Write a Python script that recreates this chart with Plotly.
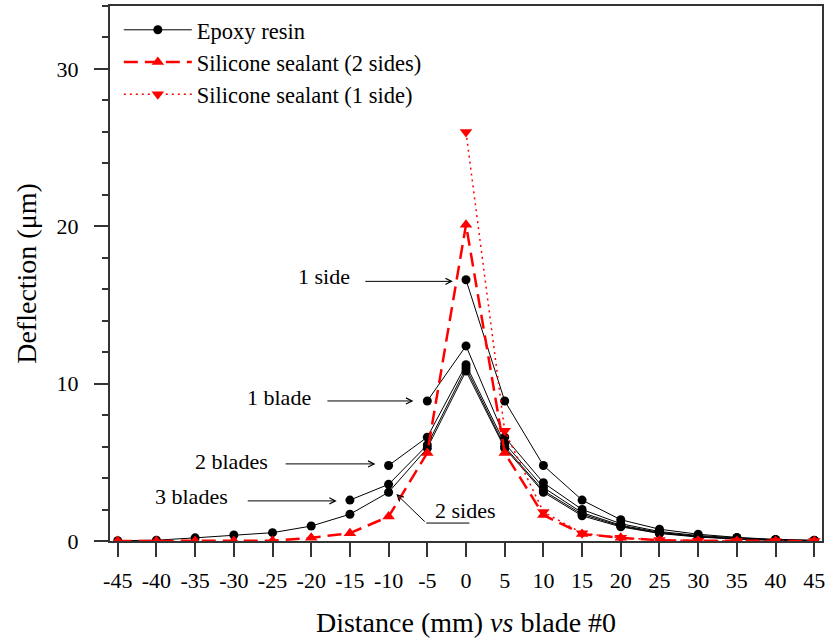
import plotly.graph_objects as go

# ---- data ----
x_full = [-45, -40, -35, -30, -25, -20, -15, -10, -5, 0, 5, 10, 15, 20, 25, 30, 35, 40, 45]

# Epoxy resin curves (each starts at a different distance)
ep_1side_x = [0, 5, 10, 15, 20, 25, 30, 35, 40, 45]
ep_1side_y = [16.6, 8.9, 4.8, 2.6, 1.35, 0.75, 0.43, 0.23, 0.1, 0.05]

ep_1blade_x = [-5, 0, 5, 10, 15, 20, 25, 30, 35, 40, 45]
ep_1blade_y = [8.9, 12.4, 6.6, 3.7, 2.0, 1.1, 0.6, 0.35, 0.2, 0.08, 0.03]

ep_2blades_x = [-10, -5, 0, 5, 10, 15, 20, 25, 30, 35, 40, 45]
ep_2blades_y = [4.8, 6.6, 11.2, 6.2, 3.4, 1.8, 1.0, 0.55, 0.3, 0.15, 0.06, 0.02]

ep_3blades_x = [-15, -10, -5, 0, 5, 10, 15, 20, 25, 30, 35, 40, 45]
ep_3blades_y = [2.6, 3.6, 6.1, 11.0, 6.0, 3.2, 1.7, 0.95, 0.5, 0.28, 0.13, 0.05, 0.02]

ep_2sides_y = [0.02, 0.05, 0.2, 0.38, 0.53, 0.95, 1.7, 3.1, 5.9, 10.8,
               5.9, 3.1, 1.6, 0.9, 0.48, 0.25, 0.12, 0.05, 0.02]

# Silicone sealant
si_2sides_y = [0, 0, 0, 0, 0.02, 0.2, 0.5, 1.55, 5.6, 20.1,
               5.6, 1.65, 0.45, 0.2, 0.05, 0.02, 0, 0, 0]
si_1side_x = [0, 5, 10, 15, 20, 25, 30, 35, 40, 45]
si_1side_y = [26.0, 7.0, 1.85, 0.5, 0.2, 0.07, 0.02, 0, 0, 0]

x_ticks = [-45, -40, -35, -30, -25, -20, -15, -10, -5, 0, 5, 10, 15, 20, 25, 30, 35, 40, 45]
x_ticktext = [str(v) for v in x_ticks]

# annotation labels: (text, text_x, text_y, tail_x, tail_y, head_x, head_y)
labels = [
    ("1 side", -18.3, 16.8, -13.2, 16.5, -1.7, 16.5),
    ("1 blade", -24.2, 9.1, -18.1, 8.9, -6.8, 8.9),
    ("2 blades", -30.3, 5.07, -23.5, 4.9, -11.7, 4.9),
    ("3 blades", -35.5, 2.8, -28.4, 2.55, -16.7, 2.55),
]
two_sides_label = ("2 sides", -0.1, 1.97)
two_sides_arrow = (-5.14, 1.14, -9.0, 2.98)
two_sides_underline = (0.64, -5.14, 1.14)

FONT = "Liberation Serif, Times New Roman, serif"

fig = go.Figure()

ep_sets = [
    (ep_1side_x, ep_1side_y),
    (ep_1blade_x, ep_1blade_y),
    (ep_2blades_x, ep_2blades_y),
    (ep_3blades_x, ep_3blades_y),
    (x_full, ep_2sides_y),
]
for i, (xx, yy) in enumerate(ep_sets):
    fig.add_trace(go.Scatter(
        x=xx, y=yy, mode="lines+markers", name="Epoxy resin",
        legendgroup="epoxy", showlegend=(i == 0),
        line=dict(color="black", width=1),
        marker=dict(symbol="circle", size=9, color="black"),
    ))

fig.add_trace(go.Scatter(
    x=x_full, y=si_2sides_y, mode="lines+markers", name="Silicone sealant (2 sides)",
    line=dict(color="#ff0000", width=2.5, dash="14px,7px"),
    marker=dict(symbol="triangle-up", size=11, color="#ff0000"),
))
fig.add_trace(go.Scatter(
    x=si_1side_x, y=si_1side_y, mode="lines+markers", name="Silicone sealant (1 side)",
    line=dict(color="#ff0000", width=1.5, dash="2px,4px"),
    marker=dict(symbol="triangle-down", size=11, color="#ff0000"),
))

annotations = []
for text, tx, ty, ax, ay, hx, hy in labels:
    annotations.append(dict(x=tx, y=ty, xref="x", yref="y", text=text, showarrow=False,
                            font=dict(family=FONT, size=22, color="black")))
    annotations.append(dict(x=hx, y=hy, ax=ax, ay=ay, xref="x", yref="y", axref="x", ayref="y",
                            text="", showarrow=True, arrowhead=5, arrowsize=1.2,
                            arrowwidth=1, arrowcolor="black"))
annotations.append(dict(x=two_sides_label[1], y=two_sides_label[2], xref="x", yref="y",
                        text=two_sides_label[0], showarrow=False,
                        font=dict(family=FONT, size=22, color="black")))
annotations.append(dict(x=two_sides_arrow[2], y=two_sides_arrow[3], ax=two_sides_arrow[0],
                        ay=two_sides_arrow[1], xref="x", yref="y", axref="x", ayref="y",
                        text="", showarrow=True, arrowhead=5, arrowsize=1.2,
                        arrowwidth=1, arrowcolor="black"))
annotations.append(dict(x=two_sides_underline[1], y=two_sides_underline[2],
                        ax=two_sides_underline[0], ay=two_sides_underline[2],
                        xref="x", yref="y", axref="x", ayref="y",
                        text="", showarrow=True, arrowhead=0, arrowwidth=1, arrowcolor="black"))

fig.update_layout(
    width=829, height=640,
    margin=dict(l=110, r=4, t=5, b=99),
    paper_bgcolor="white", plot_bgcolor="white",
    font=dict(family=FONT, size=22, color="black"),
    showlegend=True,
    legend=dict(x=0.0124, y=0.995, xanchor="left", yanchor="top",
                bgcolor="rgba(0,0,0,0)", font=dict(family=FONT, size=22.5),
                itemwidth=68, tracegroupgap=0),
    annotations=annotations,
    xaxis=dict(
        range=[-46, 46], tickmode="array", tickvals=x_ticks, ticktext=x_ticktext,
        ticks="outside", ticklen=14, tickwidth=1.5, tickcolor="#333",
        showline=True, linecolor="#333", linewidth=2, mirror=True,
        showgrid=False, zeroline=False, ticklabelstandoff=5,
        tickfont=dict(family=FONT, size=22),
        title=dict(text="Distance (mm) <i>vs</i> blade #0", font=dict(family=FONT, size=28),
                   standoff=20),
    ),
    yaxis=dict(
        range=[0, 34], tick0=0, dtick=10,
        ticks="outside", ticklen=14, tickwidth=1.5, tickcolor="#333",
        minor=dict(dtick=2, ticks="outside", ticklen=6, tickwidth=1.5, tickcolor="#333"),
        showline=True, linecolor="#333", linewidth=2, mirror=True,
        showgrid=False, zeroline=False, ticklabelstandoff=11,
        tickfont=dict(family=FONT, size=22),
        title=dict(text="Deflection (μm)", font=dict(family=FONT, size=28), standoff=12),
    ),
)

fig.write_html("out.html", config={"displayModeBar": False},
               post_script="document.body.style.margin='0';")
